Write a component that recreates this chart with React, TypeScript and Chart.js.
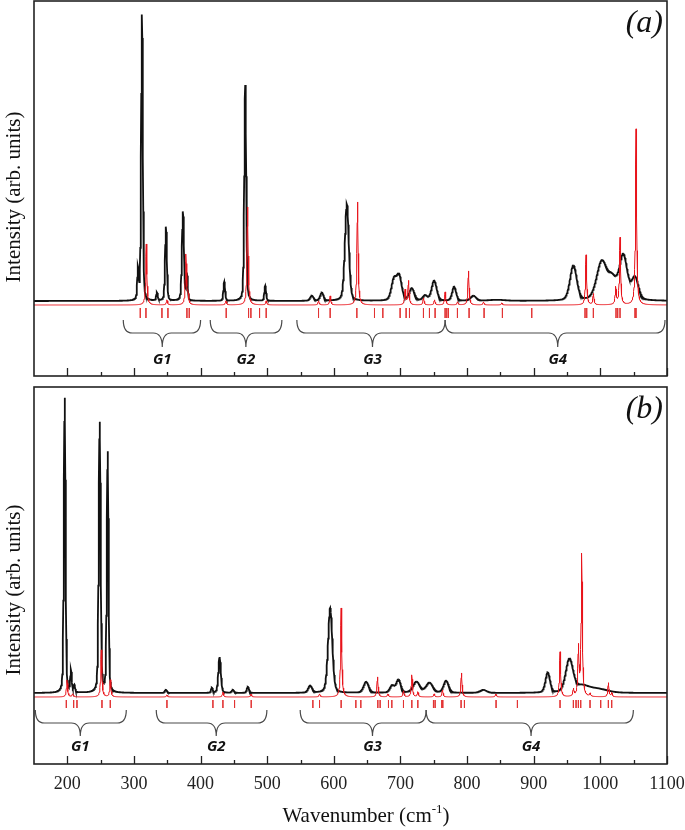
import React, { useEffect, useRef } from 'react';
import { Chart, registerables } from 'chart.js';

Chart.register(...registerables);

// ---------- shared axis ----------
const X_MIN = 150;
const X_MAX = 1100;
const xTickValues = [200, 300, 400, 500, 600, 700, 800, 900, 1000, 1100];
const xMinorTickValues = [250, 350, 450, 550, 650, 750, 850, 950, 1050];
const groupNames = ['G1', 'G2', 'G3', 'G4'];

// ---------- panel (a) ----------
// experimental Raman bands: position (cm-1), height, half width
const expPosA = [306, 312, 334.5, 348, 373.5, 379.5, 435.5, 467, 497, 567, 582, 619.5, 690, 698, 717, 737, 750.5, 780.5, 809.5, 845, 959.5, 1002, 1018, 1034.5, 1052];
const expHeightA = [30, 286, 8, 74, 89, 26, 19, 216, 15, 5, 8, 97, 20, 24, 12, 5, 20, 14, 5, 1, 35, 38, 19, 44, 22];
const expWidthA = [1.3, 1.5, 1.3, 1.6, 1.8, 1.3, 1.5, 1.7, 1.5, 3, 3, 3.5, 4.5, 4.5, 4.5, 4, 4.5, 3.5, 5, 15, 6, 9, 8, 7, 6];
const expBaseA = 4;

// calculated spectrum lines: position (cm-1), height
const calcPosA = [318.5, 349.5, 378, 381, 438, 470.5, 498.5, 577, 594.5, 635.5, 707, 712, 734.5, 751, 767, 785.5, 802, 824.5, 852, 978.5, 989.5, 1023, 1029.5, 1053.5];
const calcHeightA = [61, 5, 50, 10, 4, 98, 4, 4, 9, 103, 15, 24, 7, 5, 13, 3, 34, 3, 2, 50, 11, 17, 67, 176];

const modeTicksA = [309.5, 318, 342, 351, 379.5, 383, 438.5, 472, 475.5, 488.5, 498.5, 577, 594.5, 634.5, 661, 673.5, 699.5, 708.5, 713.5, 734.5, 743.5, 752, 767, 769.5, 772, 785.5, 803, 825.5, 853, 897, 977, 979.5, 989.5, 1023.5, 1026, 1029.5, 1052, 1053.5];

const braceStartA = [284, 414.5, 544.5, 767];
const braceEndA = [400, 522, 767, 1097];
const braceTipA = [342.5, 468, 658, 936];

// ---------- panel (b) ----------
const expPosB = [196, 205.5, 210.5, 248.5, 260.5, 348, 417, 428.5, 448.5, 471, 564.5, 594.5, 648.5, 687.5, 697, 724, 743.5, 768.5, 824.5, 921, 953.5, 972, 995];
const expHeightB = [295, 21, 7, 270, 240, 3, 5, 36, 3, 6, 7, 85, 11, 7, 13, 11, 10, 12, 3, 20, 33, 6, 4];
const expWidthB = [1.5, 1.3, 1.3, 1.7, 1.5, 2, 1.5, 2.2, 2, 2, 3.5, 3.8, 4.5, 4, 4, 6, 6, 4.5, 6, 4, 6.5, 12, 18];
const expBaseB = 4;

const calcPosB = [199.5, 208, 251, 264.5, 349.5, 433.5, 475.5, 578.5, 611, 665.5, 681, 704.5, 717, 726, 750.5, 763, 791.5, 843, 939.5, 959.5, 967, 972, 984.5, 1012, 1017];
const calcHeightB = [17, 3, 47, 17, 2, 5, 3, 3, 89, 20, 3, 6, 22, 5, 3, 7, 24, 3, 45, 7, 48, 142, 3, 14, 4];

const modeTicksB = [198.5, 209.5, 214.5, 252, 264.5, 349.5, 418.5, 433.5, 451, 476, 568.5, 578.5, 611, 633, 640.5, 666, 669.5, 682, 687, 704.5, 717, 726, 749.5, 752, 762, 763.5, 791, 796, 843.5, 875.5, 939.5, 959.5, 963.5, 967, 970.5, 984.5, 1000.5, 1012, 1017];

const braceStartB = [152, 333.5, 549.5, 738.5];
const braceEndB = [288.5, 499.5, 738.5, 1049.5];
const braceTipB = [219.5, 423.5, 658, 896];

const CALC_HWHM = 1.0;
const EXP_LORENTZ_FRACTION = 0.3;

function buildSpectrum(pos: number[], heights: number[], widths: number[] | number, base: number, eta: number) {
  const xs = new Set<number>();
  for (let x = X_MIN; x <= X_MAX + 1e-9; x += 0.5) xs.add(Math.round(x * 100) / 100);
  pos.forEach((p) => xs.add(p));
  const arr = Array.from(xs).sort((a, b) => a - b);
  return arr.map((x) => {
    let y = base;
    for (let i = 0; i < pos.length; i++) {
      const w = Array.isArray(widths) ? widths[i] : widths;
      const d = (x - pos[i]) / w;
      const lor = 1 / (1 + d * d);
      const gau = Math.exp(-Math.LN2 * d * d);
      y += heights[i] * (eta * lor + (1 - eta) * gau);
    }
    return { x, y };
  });
}

function buildTicks(ticks: number[], y0: number, y1: number) {
  const out: { x: number; y: number | null }[] = [];
  ticks.forEach((t) => {
    out.push({ x: t, y: y0 });
    out.push({ x: t, y: y1 });
    out.push({ x: t, y: null });
  });
  return out;
}

type PanelCfg = {
  label: string;
  yMin: number;
  yMax: number;
  padding: { left: number; right: number; top: number; bottom: number };
  braceStart: number[];
  braceEnd: number[];
  braceTip: number[];
  braceTop: number;
  braceMid: number;
  braceTipY: number;
  labelY: number;
  yTitleCenter: number;
  showXAxis: boolean;
};

function makePlugin(cfg: PanelCfg) {
  return {
    id: 'decor' + cfg.label,
    afterDatasetsDraw(chart: any) {
      const ctx = chart.ctx as CanvasRenderingContext2D;
      const xs = chart.scales.x;
      const ys = chart.scales.y;
      const ca = chart.chartArea;
      // braces
      ctx.save();
      ctx.strokeStyle = '#4a4a4a';
      ctx.lineWidth = 1.2;
      const yt = ys.getPixelForValue(cfg.braceTop);
      const ym = ys.getPixelForValue(cfg.braceMid);
      const yp = ys.getPixelForValue(cfg.braceTipY);
      const r = 9;
      for (let i = 0; i < cfg.braceStart.length; i++) {
        const xl = xs.getPixelForValue(cfg.braceStart[i]);
        const xr = xs.getPixelForValue(cfg.braceEnd[i]);
        const xm = xs.getPixelForValue(cfg.braceTip[i]);
        ctx.beginPath();
        ctx.moveTo(xl, yt);
        ctx.quadraticCurveTo(xl, ym, xl + r, ym);
        ctx.lineTo(xm - r, ym);
        ctx.quadraticCurveTo(xm, ym, xm, yp);
        ctx.moveTo(xr, yt);
        ctx.quadraticCurveTo(xr, ym, xr - r, ym);
        ctx.lineTo(xm + r, ym);
        ctx.quadraticCurveTo(xm, ym, xm, yp);
        ctx.stroke();
      }
      ctx.fillStyle = '#111';
      ctx.font = 'italic bold 15px "Open Sans"';
      ctx.textAlign = 'center';
      ctx.textBaseline = 'middle';
      const ly = ys.getPixelForValue(cfg.labelY);
      for (let i = 0; i < groupNames.length; i++) {
        ctx.fillText(groupNames[i], xs.getPixelForValue(cfg.braceTip[i]), ly);
      }
      ctx.restore();

      // inward ticks on bottom axis
      ctx.save();
      ctx.strokeStyle = '#222';
      ctx.lineWidth = 1.3;
      ctx.beginPath();
      xTickValues.forEach((v) => {
        const px = Math.round(xs.getPixelForValue(v)) + 0.5;
        ctx.moveTo(px, ca.bottom);
        ctx.lineTo(px, ca.bottom - 8);
      });
      xMinorTickValues.forEach((v) => {
        const px = Math.round(xs.getPixelForValue(v)) + 0.5;
        ctx.moveTo(px, ca.bottom);
        ctx.lineTo(px, ca.bottom - 4);
      });
      ctx.stroke();
      // frame
      ctx.lineWidth = 1.6;
      ctx.strokeStyle = '#222';
      ctx.strokeRect(ca.left, ca.top, ca.right - ca.left, ca.bottom - ca.top);
      ctx.restore();

      // panel label
      ctx.save();
      ctx.fillStyle = '#111';
      ctx.font = 'italic 32px "Liberation Serif"';
      ctx.textAlign = 'right';
      ctx.textBaseline = 'alphabetic';
      ctx.fillText(cfg.label, ca.right - 4, ca.top + 31);
      ctx.restore();

      // y title
      ctx.save();
      ctx.fillStyle = '#111';
      ctx.font = '21px "Liberation Serif"';
      ctx.textAlign = 'center';
      ctx.textBaseline = 'middle';
      ctx.translate(14, cfg.yTitleCenter);
      ctx.rotate(-Math.PI / 2);
      ctx.fillText('Intensity (arb. units)', 0, 0);
      ctx.restore();

      // x title
      if (cfg.showXAxis) {
        ctx.save();
        ctx.fillStyle = '#111';
        ctx.textBaseline = 'alphabetic';
        ctx.textAlign = 'left';
        const main = 'Wavenumber (cm';
        const sup = '-1';
        const tail = ')';
        ctx.font = '21px "Liberation Serif"';
        const w1 = ctx.measureText(main).width;
        const w3 = ctx.measureText(tail).width;
        ctx.font = '13px "Liberation Serif"';
        const w2 = ctx.measureText(sup).width;
        const total = w1 + w2 + w3;
        const cx = 366;
        const base = 442;
        let x = cx - total / 2;
        ctx.font = '21px "Liberation Serif"';
        ctx.fillText(main, x, base);
        x += w1;
        ctx.font = '13px "Liberation Serif"';
        ctx.fillText(sup, x, base - 9);
        x += w2;
        ctx.font = '21px "Liberation Serif"';
        ctx.fillText(tail, x, base);
        ctx.restore();
      }
    },
  };
}

function makeConfig(cfg: PanelCfg, calc: any[], ticks: any[], exp: any[]) {
  return {
    type: 'line' as const,
    data: {
      datasets: [
        { data: calc, borderColor: '#e8141b', borderWidth: 1, pointRadius: 0, tension: 0 },
        { data: ticks, borderColor: 'rgba(226,50,50,0.85)', borderWidth: 1, pointRadius: 0, spanGaps: false },
        { data: exp, borderColor: '#111111', borderWidth: 1.8, pointRadius: 0, tension: 0 },
      ],
    },
    options: {
      animation: false as const,
      responsive: false,
      parsing: false as const,
      normalized: true,
      events: [] as any[],
      layout: { padding: cfg.padding },
      plugins: { legend: { display: false }, tooltip: { enabled: false }, title: { display: false } },
      scales: {
        x: {
          type: 'linear' as const,
          min: X_MIN,
          max: X_MAX,
          display: cfg.showXAxis,
          grid: { display: false, drawTicks: false },
          border: { display: false },
          ticks: {
            padding: 9,
            color: '#222',
            font: { family: '"Liberation Serif"', size: 18 },
            callback: (v: any) => String(v),
          },
          afterBuildTicks: (s: any) => {
            s.ticks = xTickValues.map((v) => ({ value: v }));
          },
          afterFit: (s: any) => {
            if (!cfg.showXAxis) {
              s.height = 0;
              return;
            }
            s.height = 30;
            s.paddingLeft = 0;
            s.paddingRight = 0;
          },
        },
        y: { type: 'linear' as const, min: cfg.yMin, max: cfg.yMax, display: false },
      },
    },
    plugins: [makePlugin(cfg)],
  };
}

const cfgA: PanelCfg = {
  label: '(a)',
  yMin: -71,
  yMax: 304,
  padding: { left: 34, right: 18, top: 1, bottom: 4 },
  braceStart: braceStartA,
  braceEnd: braceEndA,
  braceTip: braceTipA,
  braceTop: -15,
  braceMid: -28,
  braceTipY: -42,
  labelY: -55,
  yTitleCenter: 197,
  showXAxis: false,
};

const cfgB: PanelCfg = {
  label: '(b)',
  yMin: -67,
  yMax: 310,
  padding: { left: 34, right: 18, top: 7, bottom: 36 },
  braceStart: braceStartB,
  braceEnd: braceEndB,
  braceTip: braceTipB,
  braceTop: -13,
  braceMid: -26,
  braceTipY: -39,
  labelY: -50,
  yTitleCenter: 210,
  showXAxis: true,
};

function Panel({ cfg, calc, ticks, exp, top, height }: any) {
  const ref = useRef<HTMLCanvasElement | null>(null);
  useEffect(() => {
    if (!ref.current) return;
    const chart = new Chart(ref.current, makeConfig(cfg, calc, ticks, exp) as any);
    return () => chart.destroy();
  }, []);
  return (
    <canvas
      ref={ref}
      width={685}
      height={height}
      style={{ position: 'absolute', left: 0, top, width: 685, height, display: 'block' }}
    />
  );
}

export default function App() {
  const calcA = buildSpectrum(calcPosA, calcHeightA, CALC_HWHM, 0, 1);
  const expA = buildSpectrum(expPosA, expHeightA, expWidthA, expBaseA, EXP_LORENTZ_FRACTION);
  const ticksA = buildTicks(modeTicksA, -3, -13);
  const calcB = buildSpectrum(calcPosB, calcHeightB, CALC_HWHM, 0, 1);
  const expB = buildSpectrum(expPosB, expHeightB, expWidthB, expBaseB, EXP_LORENTZ_FRACTION);
  const ticksB = buildTicks(modeTicksB, -3, -11);
  return (
    <div style={{ position: 'absolute', left: 0, top: 0, width: 685, height: 830, background: '#fff', overflow: 'hidden' }}>
      <Panel cfg={cfgA} calc={calcA} ticks={ticksA} exp={expA} top={0} height={380} />
      <Panel cfg={cfgB} calc={calcB} ticks={ticksB} exp={expB} top={380} height={450} />
    </div>
  );
}
